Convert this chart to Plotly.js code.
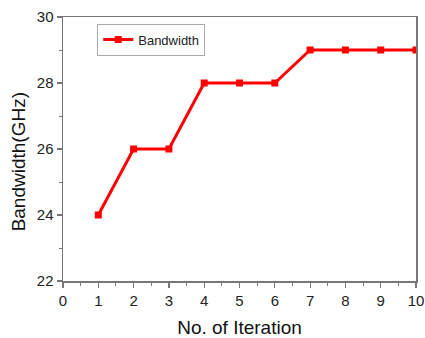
<!DOCTYPE html>
<html>
<head>
<meta charset="utf-8">
<script src="https://cdn.plot.ly/plotly-3.0.1.min.js"></script>
<style>html,body{margin:0;padding:0;background:#fff;}#chart{width:425px;height:338px;}</style>
</head>
<body>
<div id="chart"></div>
<script>
var iterations = [1, 2, 3, 4, 5, 6, 7, 8, 9, 10];
var bandwidth = [24, 26, 26, 28, 28, 28, 29, 29, 29, 29];
var seriesName = "Bandwidth";
var xTitle = "No. of Iteration";
var yTitle = "Bandwidth(GHz)";

var axisColor = "#777";
var fontFam = "Arial, 'Liberation Sans', sans-serif";

var trace = {
  x: iterations,
  y: bandwidth,
  name: seriesName,
  type: "scatter",
  mode: "lines+markers",
  line: {color: "#ff0000", width: 3},
  marker: {color: "#ff0000", symbol: "square", size: 7}
};

var layout = {
  width: 425,
  height: 338,
  margin: {l: 63, r: 9, t: 17, b: 57},
  paper_bgcolor: "#fff",
  plot_bgcolor: "#fff",
  font: {family: fontFam, color: "#222"},
  showlegend: true,
  legend: {
    x: 0.097, y: 0.975, xanchor: "left", yanchor: "top",
    bgcolor: "rgba(255,255,255,0)",
    bordercolor: "#aaa", borderwidth: 1,
    font: {size: 13, color: "#222", family: fontFam},
    tracegroupgap: 0,
    itemwidth: 30
  },
  xaxis: {
    range: [0, 10],
    tickmode: "linear", tick0: 0, dtick: 1,
    ticks: "outside", ticklen: 5, tickwidth: 1.2, tickcolor: axisColor,
    minor: {dtick: 0.5, ticks: "outside", ticklen: 3, tickcolor: axisColor, tickwidth: 1},
    showline: true, linecolor: axisColor, linewidth: 1.5, mirror: true,
    showgrid: false, zeroline: false,
    tickfont: {size: 15, color: "#222", family: fontFam},
    title: {text: xTitle, font: {size: 19, color: "#111", family: fontFam}, standoff: 14}
  },
  yaxis: {
    range: [22, 30],
    tickmode: "linear", tick0: 22, dtick: 2,
    ticks: "outside", ticklen: 5, tickwidth: 1.2, tickcolor: axisColor,
    minor: {dtick: 1, ticks: "outside", ticklen: 3, tickcolor: axisColor, tickwidth: 1},
    showline: true, linecolor: axisColor, linewidth: 1.5, mirror: true,
    showgrid: false, zeroline: false,
    tickfont: {size: 15, color: "#222", family: fontFam}
  },
  annotations: [{
    text: yTitle, textangle: -90,
    xref: "paper", yref: "paper",
    x: -0.127, y: 0.45, xanchor: "center", yanchor: "middle",
    showarrow: false,
    font: {size: 19, color: "#111", family: fontFam}
  }]
};

Plotly.newPlot("chart", [trace], layout, {displayModeBar: false, staticPlot: true});
</script>
</body>
</html>
